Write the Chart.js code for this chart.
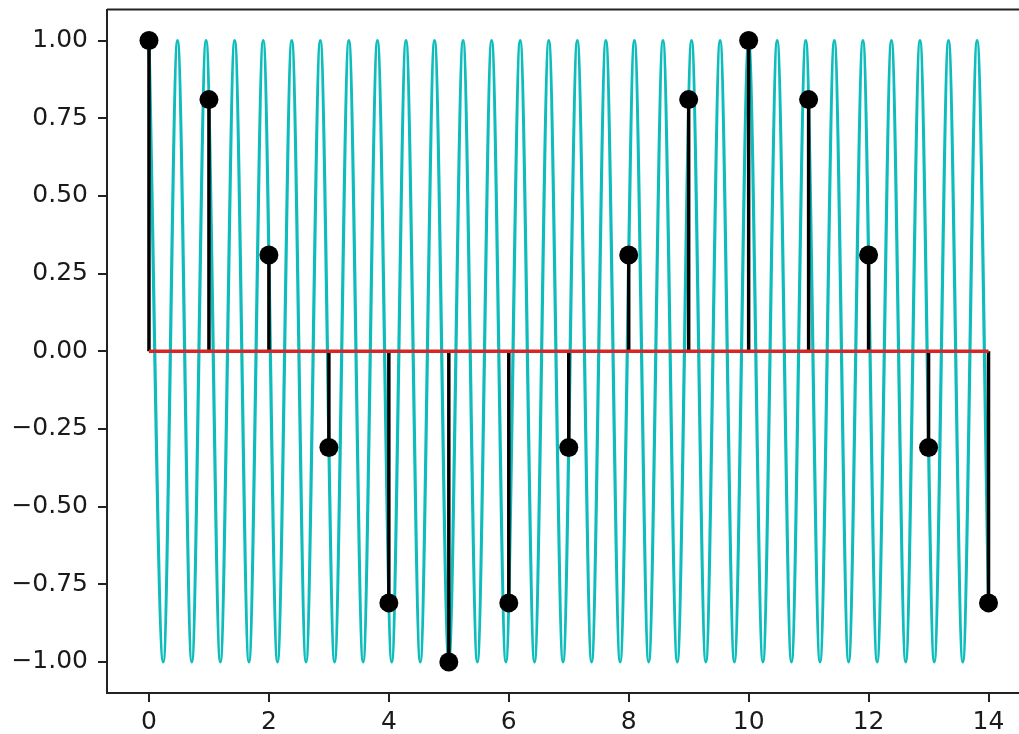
<!DOCTYPE html>
<html>
<head>
<meta charset="utf-8">
<script src="https://cdn.jsdelivr.net/npm/chart.js@4/dist/chart.umd.min.js"></script>
<style>
  html, body { margin: 0; padding: 0; background: #fff; overflow: hidden; }
  #plot { display: block; }
</style>
</head>
<body>
<canvas id="plot" width="1040" height="734"></canvas>
<script>
// sampled points (stems)
const stemX = [0, 1, 2, 3, 4, 5, 6, 7, 8, 9, 10, 11, 12, 13, 14];
const stemY = [1.00, 0.81, 0.31, -0.31, -0.81, -1.00, -0.81, -0.31, 0.31, 0.81, 1.00, 0.81, 0.31, -0.31, -0.81];

// continuous cyan wave: its peaks/troughs, plus the end point
const waveX = [0, 0.238, 0.476, 0.714, 0.952, 1.190, 1.429, 1.667, 1.905, 2.143,
  2.381, 2.619, 2.857, 3.095, 3.333, 3.571, 3.810, 4.048, 4.286, 4.524,
  4.762, 5.000, 5.238, 5.476, 5.714, 5.952, 6.190, 6.429, 6.667, 6.905,
  7.143, 7.381, 7.619, 7.857, 8.095, 8.333, 8.571, 8.810, 9.048, 9.286,
  9.524, 9.762, 10.000, 10.238, 10.476, 10.714, 10.952, 11.190, 11.429, 11.667,
  11.905, 12.143, 12.381, 12.619, 12.857, 13.095, 13.333, 13.571, 13.810, 14.000];
const waveY = [1, -1, 1, -1, 1, -1, 1, -1, 1, -1,
  1, -1, 1, -1, 1, -1, 1, -1, 1, -1,
  1, -1, 1, -1, 1, -1, 1, -1, 1, -1,
  1, -1, 1, -1, 1, -1, 1, -1, 1, -1,
  1, -1, 1, -1, 1, -1, 1, -1, 1, -1,
  1, -1, 1, -1, 1, -1, 1, -1, 1, -0.81];

const baseX = [0, 14];
const xTicks = [0, 2, 4, 6, 8, 10, 12, 14];
const yTicks = [-1.00, -0.75, -0.50, -0.25, 0.00, 0.25, 0.50, 0.75, 1.00];

const CYAN = '#0fbcbc';
const RED = '#d62728';
const INK = '#000000';
const AXIS = '#222';

const stemLines = [];
stemX.forEach((x, i) => {
  stemLines.push({ x, y: 0 }, { x, y: stemY[i] }, { x, y: null });
});

// top spine (matplotlib box); right spine is outside the visible crop
const topSpine = {
  id: 'topSpine',
  afterDraw(chart) {
    const { ctx, chartArea } = chart;
    ctx.save();
    ctx.strokeStyle = AXIS;
    ctx.lineWidth = 2;
    ctx.beginPath();
    ctx.moveTo(chartArea.left, chartArea.top);
    ctx.lineTo(chartArea.right, chartArea.top);
    ctx.stroke();
    ctx.restore();
  }
};

new Chart(document.getElementById('plot'), {
  type: 'scatter',
  data: {
    datasets: [
      {
        data: stemX.map((x, i) => ({ x, y: stemY[i] })),
        showLine: false,
        pointRadius: 9.5,
        pointBackgroundColor: INK,
        pointBorderColor: INK,
        pointBorderWidth: 0,
        order: 1,
      },
      {
        data: baseX.map(x => ({ x, y: 0 })),
        showLine: true,
        borderColor: RED,
        borderWidth: 3.5,
        pointRadius: 0,
        order: 2,
      },
      {
        data: stemLines,
        showLine: true,
        spanGaps: false,
        borderColor: INK,
        borderWidth: 3.5,
        pointRadius: 0,
        order: 3,
      },
      {
        data: waveX.map((x, i) => ({ x, y: waveY[i] })),
        showLine: true,
        cubicInterpolationMode: 'monotone',
        borderColor: CYAN,
        borderWidth: 3.2,
        pointRadius: 0,
        order: 4,
      },
    ],
  },
  options: {
    responsive: false,
    animation: false,
    events: [],
    layout: { padding: { top: 3, right: 1, left: 0, bottom: 0 } },
    plugins: {
      legend: { display: false },
      tooltip: { enabled: false },
    },
    scales: {
      x: {
        type: 'linear',
        min: -0.7,
        max: 14.7,
        afterBuildTicks: s => { s.ticks = xTicks.map(value => ({ value })); },
        afterFit: s => { s.height = 41; s.paddingLeft = 0; s.paddingRight = 0; },
        border: { display: true, color: AXIS, width: 2 },
        grid: { drawOnChartArea: false, tickLength: 9, color: AXIS, lineWidth: 2 },
        ticks: {
          color: '#1a1a1a',
          padding: 5,
          maxRotation: 0,
          font: { family: 'DejaVu Sans', size: 25 },
        },
      },
      y: {
        type: 'linear',
        min: -1.1,
        max: 1.1,
        afterBuildTicks: s => { s.ticks = yTicks.map(value => ({ value })); },
        afterFit: s => { s.width = 107; s.paddingTop = 0; s.paddingBottom = 0; },
        border: { display: true, color: AXIS, width: 2 },
        grid: { drawOnChartArea: false, tickLength: 9, color: AXIS, lineWidth: 2 },
        ticks: {
          color: '#1a1a1a',
          padding: 10,
          font: { family: 'DejaVu Sans', size: 25 },
          callback: v => v.toFixed(2).replace('-', '\u2212'),
        },
      },
    },
  },
  plugins: [topSpine],
});
</script>
</body>
</html>
